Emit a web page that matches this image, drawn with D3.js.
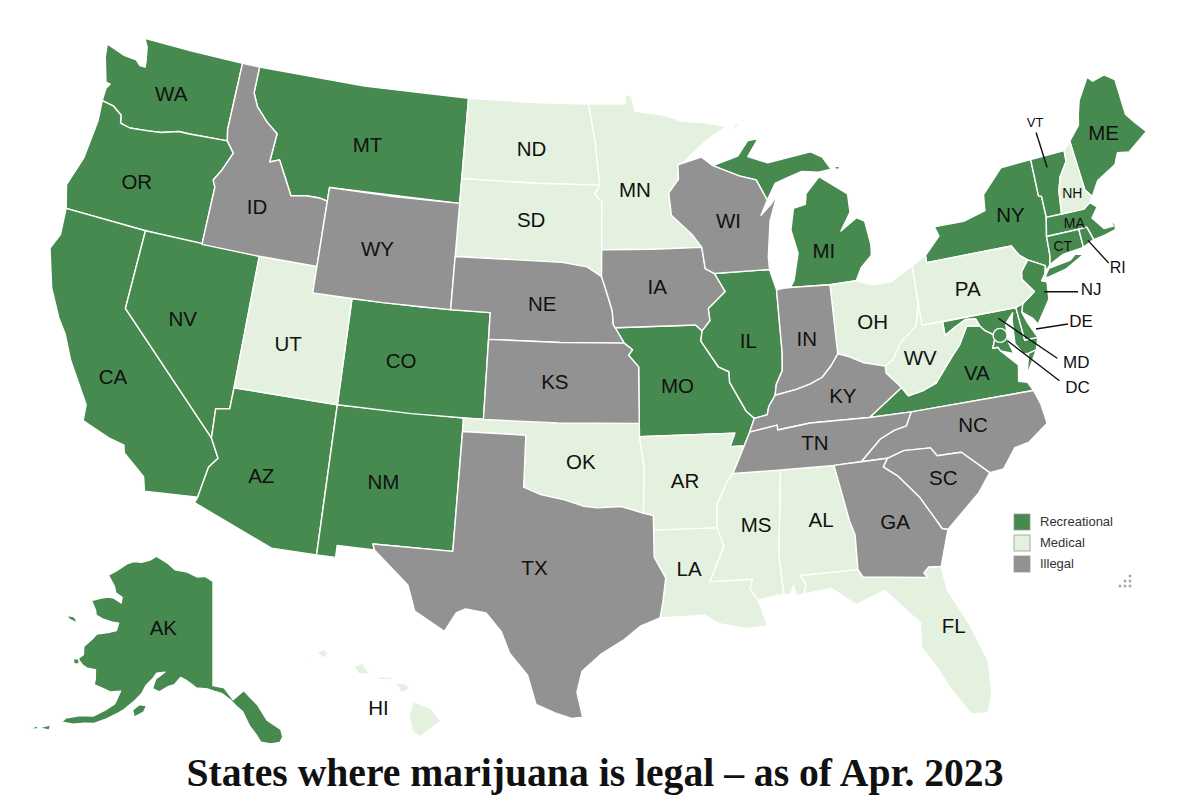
<!DOCTYPE html>
<html>
<head>
<meta charset="utf-8">
<script src="https://cdnjs.cloudflare.com/ajax/libs/d3/7.8.5/d3.min.js"></script>
<style>
  html, body { margin: 0; background: #fff; }
  text { font-family: "Liberation Sans", Arial, sans-serif; fill: #111; }
</style>
</head>
<body>
<div class="chart"></div>
<script>
var svgWidth = 1200;
var svgHeight = 812;

// status lists
var recreational = ["WA","OR","CA","NV","AZ","NM","CO","MT","AK","MO","IL","MI","NY","NJ","VT","ME","MA","CT","RI","VA","MD","DE"];
var medical = ["ND","SD","MN","UT","OK","AR","LA","MS","AL","FL","OH","PA","WV","NH","HI"];
var illegal = ["ID","WY","NE","KS","TX","IA","WI","IN","KY","TN","NC","SC","GA"];

var legendNames = ["Recreational", "Medical", "Illegal"];
var legendColors = ["#468a4f", "#e3f1de", "#929292"];

// state outlines, [lon, lat]
var WA = [[-124.7,48.38],[-124.6,47.9],[-124.15,46.98],[-123.9,46.95],[-124.05,46.75],[-124.05,46.27],[-123.4,46.2],[-122.85,45.95],[-122.75,45.65],[-122.2,45.57],[-121.2,45.65],[-120.5,45.72],[-119.6,45.92],[-119,45.93],[-116.92,46],[-117.04,46.42],[-117.04,49],[-120,49],[-122.76,49],[-122.5,48.7],[-122.35,48.2],[-122.3,47.95],[-122.6,47.95],[-122.9,48.12],[-123.6,48.15]];
var OR = [[-124.05,46.27],[-123.4,46.2],[-122.85,45.95],[-122.75,45.65],[-122.2,45.57],[-121.2,45.65],[-120.5,45.72],[-119.6,45.92],[-119,45.93],[-116.92,46],[-116.46,45.6],[-116.85,44.9],[-117.2,44.45],[-117.03,44.2],[-117.03,42],[-120,42],[-124.21,42],[-124.55,42.85],[-124.1,44],[-123.95,45.5]];
var ID = [[-117.04,49],[-116.05,49],[-116.05,48],[-115.7,47.5],[-115,47],[-114.35,46.65],[-114.45,45.55],[-113.95,45.7],[-113.45,45.05],[-113,44.45],[-112.2,44.55],[-111.5,44.55],[-111.05,44.48],[-111.05,42],[-114.04,42],[-117.03,42],[-117.03,44.2],[-117.2,44.45],[-116.85,44.9],[-116.46,45.6],[-116.92,46],[-117.04,46.42]];
var MT = [[-116.05,49],[-110,49],[-104.05,49],[-104.05,45],[-111.05,45],[-111.05,44.48],[-111.5,44.55],[-112.2,44.55],[-113,44.45],[-113.45,45.05],[-113.95,45.7],[-114.45,45.55],[-114.35,46.65],[-115,47],[-115.7,47.5],[-116.05,48]];
var WY = [[-111.05,45],[-107.5,45],[-104.05,45],[-104.05,41],[-107.5,41],[-111.05,41]];
var NV = [[-120,42],[-114.04,42],[-114.04,37],[-114.05,36.2],[-114.7,36.1],[-114.63,35],[-120,39]];
var UT = [[-114.04,42],[-111.05,42],[-111.05,41],[-109.05,41],[-109.05,37],[-114.04,37]];
var CO = [[-109.05,41],[-105.5,41],[-102.05,41],[-102.05,37],[-105.5,37],[-109.05,37]];
var CA = [[-124.21,42],[-120,42],[-120,39],[-114.63,35],[-114.15,34.3],[-114.5,33.9],[-114.72,32.72],[-117.12,32.53],[-117.3,33.05],[-118.4,33.75],[-118.5,34.03],[-119.2,34.15],[-120.6,34.55],[-120.65,35.15],[-121.9,36.6],[-122.5,37.5],[-123,38],[-123.75,39],[-124.4,40.4],[-124.1,41]];
var AZ = [[-114.04,37],[-109.05,37],[-109.05,31.33],[-111.07,31.33],[-114.81,32.5],[-114.72,32.72],[-114.5,33.9],[-114.15,34.3],[-114.63,35],[-114.7,36.1],[-114.05,36.2]];
var NM = [[-109.05,37],[-103,37],[-103.04,32],[-106.62,32],[-106.53,31.78],[-108.2,31.78],[-108.2,31.33],[-109.05,31.33]];
var ND = [[-104.05,49],[-100,49],[-97.23,49],[-96.85,47.6],[-96.56,45.93],[-100,45.94],[-104.05,45.94]];
var SD = [[-104.05,45.94],[-100,45.94],[-96.56,45.93],[-96.85,45.6],[-96.45,45.3],[-96.45,43.5],[-96.45,42.49],[-97.2,42.85],[-98.5,43],[-104.05,43]];
var NE = [[-104.05,43],[-98.5,43],[-97.2,42.85],[-96.45,42.49],[-96.1,41.7],[-95.9,41.2],[-95.85,40.7],[-95.31,40],[-98.5,40],[-102.05,40],[-102.05,41],[-104.05,41]];
var KS = [[-102.05,40],[-98.5,40],[-95.31,40],[-94.9,39.75],[-95.1,39.55],[-94.61,39.11],[-94.62,37],[-98.5,37],[-102.05,37]];
var OK = [[-103,37],[-98.5,37],[-94.62,37],[-94.62,36.5],[-94.43,35.4],[-94.48,33.64],[-95.5,33.9],[-96.6,33.85],[-97.2,33.9],[-98.1,34.13],[-99.2,34.3],[-100,34.56],[-100,36.5],[-103,36.5]];
var TX = [[-103,36.5],[-100,36.5],[-100,34.56],[-99.2,34.3],[-98.1,34.13],[-97.2,33.9],[-96.6,33.85],[-95.5,33.9],[-94.48,33.64],[-94.04,33.55],[-94.04,33],[-94.04,31.99],[-93.55,31.2],[-93.7,30.3],[-93.84,29.7],[-94.7,29.4],[-95.4,28.9],[-96.4,28.35],[-97.2,27.7],[-97.4,26.9],[-97.15,25.96],[-97.6,25.9],[-98.3,26.1],[-99.1,26.4],[-99.5,27.5],[-100.3,28.3],[-100.7,29.1],[-101.4,29.77],[-102.3,29.88],[-102.7,29.7],[-103.15,28.98],[-104.5,29.65],[-104.9,30.6],[-106.53,31.78],[-106.62,32],[-103.04,32]];
var MN = [[-97.23,49],[-95.15,49],[-95.15,49.38],[-94.8,49.3],[-94.6,48.72],[-93,48.55],[-92,48.3],[-90.8,48.2],[-89.5,48],[-90.5,47.6],[-92.05,46.7],[-92.3,46.65],[-92.3,46.1],[-92.85,45.6],[-92.75,44.75],[-91.7,44],[-91.22,43.5],[-93.8,43.5],[-96.45,43.5],[-96.45,45.3],[-96.85,45.6],[-96.56,45.93],[-96.85,47.6]];
var IA = [[-96.45,43.5],[-93.8,43.5],[-91.22,43.5],[-91.1,42.7],[-90.65,42.5],[-90.15,41.8],[-91.05,41.2],[-91,40.75],[-91.42,40.38],[-91.73,40.61],[-95.77,40.58],[-95.85,40.7],[-95.9,41.2],[-96.1,41.7],[-96.45,42.49]];
var MO = [[-95.77,40.58],[-91.73,40.61],[-91.42,40.38],[-91.5,40],[-90.7,39],[-90.2,38.8],[-90.2,38.4],[-89.5,37.3],[-89.13,37],[-89.4,36.5],[-89.7,36],[-90.37,36],[-90.1,36.5],[-94.62,36.5],[-94.62,37],[-94.61,39.11],[-95.1,39.55],[-94.9,39.75],[-95.31,40]];
var AR = [[-94.62,36.5],[-90.1,36.5],[-90.37,36],[-89.7,36],[-90.3,35],[-90.6,34.7],[-91.1,33.9],[-91.17,33],[-94.04,33],[-94.04,33.55],[-94.48,33.64],[-94.43,35.4]];
var LA = [[-94.04,33],[-91.17,33],[-90.9,32.3],[-91.6,31],[-89.73,31],[-89.85,30.65],[-89.55,30.2],[-89.4,29.8],[-89.2,29.2],[-90.1,29.15],[-91.3,29.4],[-91.9,29.75],[-93.84,29.7],[-93.7,30.3],[-93.55,31.2],[-94.04,31.99]];
var WI = [[-92.05,46.7],[-91,46.9],[-90.4,46.55],[-89,46.1],[-88.1,45.9],[-87.6,45.1],[-88,44.55],[-87.4,44.95],[-87.05,45.28],[-87.55,44.3],[-87.8,43],[-87.8,42.5],[-90.65,42.5],[-91.1,42.7],[-91.22,43.5],[-91.7,44],[-92.75,44.75],[-92.85,45.6],[-92.3,46.1],[-92.3,46.65]];
var IL = [[-90.65,42.5],[-87.8,42.5],[-87.53,41.72],[-87.53,39.35],[-87.6,38.7],[-87.95,38.2],[-88.05,37.8],[-88.4,37.4],[-88.5,37.1],[-89.13,37],[-89.5,37.3],[-90.2,38.4],[-90.2,38.8],[-90.7,39],[-91.5,40],[-91.42,40.38],[-91,40.75],[-91.05,41.2],[-90.15,41.8]];
var IN = [[-87.53,41.72],[-87.2,41.75],[-86.82,41.76],[-84.8,41.7],[-84.82,39.1],[-85.2,38.7],[-85.7,38.3],[-86.3,38.1],[-87,37.95],[-88.05,37.8],[-87.95,38.2],[-87.6,38.7],[-87.53,39.35]];
var OH = [[-84.8,41.7],[-83.45,41.73],[-82.7,41.5],[-81.7,41.5],[-80.52,41.98],[-80.52,40.64],[-80.7,40],[-80.85,39.7],[-81.7,39.2],[-82.2,38.6],[-82.6,38.42],[-83.6,38.65],[-84.3,38.95],[-84.82,39.1]];
var KY = [[-89.13,37],[-88.5,37.1],[-88.4,37.4],[-88.05,37.8],[-87,37.95],[-86.3,38.1],[-85.7,38.3],[-85.2,38.7],[-84.82,39.1],[-84.3,38.95],[-83.6,38.65],[-82.6,38.42],[-82.6,38.15],[-81.97,37.54],[-83.68,36.6],[-86.5,36.65],[-88.07,36.5],[-88.07,36.68],[-89.4,36.5]];
var TN = [[-89.7,36],[-89.4,36.5],[-88.07,36.68],[-88.07,36.5],[-86.5,36.65],[-83.68,36.6],[-81.68,36.59],[-82,36.1],[-82.6,36],[-83.3,35.75],[-84.32,35],[-85.6,34.98],[-88.2,35],[-90.3,35]];
var MS = [[-90.3,35],[-88.2,35],[-88.1,34.9],[-88.47,31.9],[-88.4,30.35],[-89.55,30.2],[-89.85,30.65],[-89.73,31],[-91.6,31],[-90.9,32.3],[-91.17,33],[-91.1,33.9],[-90.6,34.7]];
var AL = [[-88.2,35],[-85.6,34.98],[-85.18,32.87],[-85,32.3],[-85.05,31],[-87.6,31],[-87.4,30.65],[-87.5,30.3],[-87.85,30.25],[-87.95,30.65],[-88.1,30.3],[-88.4,30.35],[-88.47,31.9],[-88.1,34.9]];
var GA = [[-85.6,34.98],[-84.32,35],[-83.1,35],[-83.35,34.7],[-82.75,34.3],[-81.9,33.4],[-81.4,32.6],[-81.1,32.1],[-80.85,32.03],[-81.4,30.7],[-81.95,30.75],[-82.2,30.55],[-82.05,30.36],[-84.86,30.7],[-85.05,31],[-85,32.3],[-85.18,32.87]];
var FL = [[-87.6,31],[-85.05,31],[-84.86,30.7],[-82.05,30.36],[-82.2,30.55],[-81.95,30.75],[-81.4,30.7],[-81.3,29.8],[-80.6,28.4],[-80.05,26.9],[-80.12,25.7],[-80.4,24.95],[-81.1,25],[-81.8,26.1],[-82.2,26.9],[-82.75,27.8],[-82.65,28.7],[-83.4,29.5],[-84,30.1],[-85.3,29.7],[-86.3,30.4],[-87.5,30.3],[-87.4,30.65]];
var SC = [[-83.1,35],[-82.3,35.2],[-81.05,35.15],[-80.8,34.82],[-79.67,34.8],[-78.55,33.86],[-79.2,33.2],[-80.85,32.03],[-81.1,32.1],[-81.4,32.6],[-81.9,33.4],[-82.75,34.3],[-83.35,34.7]];
var NC = [[-84.32,35],[-83.1,35],[-82.3,35.2],[-81.05,35.15],[-80.8,34.82],[-79.67,34.8],[-78.55,33.86],[-77.9,33.9],[-77.2,34.6],[-76.5,34.7],[-75.5,35.25],[-75.6,36],[-75.8,36.55],[-81.68,36.59],[-82,36.1],[-82.6,36],[-83.3,35.75]];
var VA = [[-83.68,36.6],[-81.68,36.59],[-75.8,36.55],[-76,36.9],[-76.4,37],[-76.25,37.6],[-76.95,38.25],[-77.05,38.4],[-77.3,38.4],[-77.05,38.85],[-77.5,39.1],[-77.72,39.32],[-78.35,39.4],[-78.85,38.77],[-79.3,38.4],[-80.3,37.5],[-81,37.3],[-81.7,37.2],[-81.97,37.54]];
var VAshore = [[-75.95,37.15],[-75.25,38.02],[-75.65,37.95]];
var WV = [[-82.6,38.15],[-82.6,38.42],[-82.2,38.6],[-81.7,39.2],[-80.85,39.7],[-80.7,40],[-80.52,40.64],[-80.52,39.72],[-79.48,39.72],[-79.48,39.2],[-78.9,39.45],[-78.35,39.65],[-77.85,39.6],[-77.72,39.32],[-78.35,39.4],[-78.85,38.77],[-79.3,38.4],[-80.3,37.5],[-81,37.3],[-81.7,37.2],[-81.97,37.54]];
var PA = [[-80.52,41.98],[-80.1,42.15],[-79.76,42.27],[-79.76,42],[-75.35,42],[-75.07,41.6],[-74.7,41.36],[-75.13,40.98],[-75.2,40.7],[-74.72,40.15],[-75.42,39.8],[-75.79,39.72],[-80.52,39.72],[-80.52,40.64]];
var NY = [[-79.76,42.27],[-78.9,42.9],[-79.05,43.27],[-77.5,43.27],[-76.3,43.5],[-76.2,44.1],[-75,44.95],[-73.35,45],[-73.4,43.6],[-73.25,43.55],[-73.27,42.75],[-73.49,42.05],[-73.55,41.3],[-73.65,41],[-73.9,40.8],[-73.9,41],[-74.7,41.36],[-75.07,41.6],[-75.35,42],[-79.76,42]];
var longIsland = [[-74.03,40.6],[-73.75,40.87],[-72.6,40.98],[-72.3,41.15],[-71.87,41.07],[-72.9,40.7],[-73.9,40.55]];
var NJ = [[-74.7,41.36],[-73.9,41],[-74.02,40.7],[-74.25,40.48],[-74,40.4],[-74.1,39.75],[-74.9,38.93],[-75.1,39.2],[-75.55,39.5],[-75.42,39.8],[-74.72,40.15],[-75.2,40.7],[-75.13,40.98]];
var DE = [[-75.79,39.72],[-75.42,39.8],[-75.55,39.5],[-75.4,39.1],[-75.05,38.45],[-75.7,38.46]];
var MD = [[-79.48,39.72],[-75.79,39.72],[-75.7,38.46],[-75.05,38.45],[-75.25,38.02],[-75.65,37.95],[-75.9,37.95],[-76.2,38.4],[-76.1,39.3],[-76,39.55],[-76.45,39.2],[-76.5,38.5],[-76.35,38.05],[-76.95,38.25],[-77.05,38.4],[-77.3,38.4],[-77.05,38.85],[-77.5,39.1],[-77.72,39.32],[-77.85,39.6],[-78.35,39.65],[-78.9,39.45],[-79.48,39.2]];
var CT = [[-73.49,42.05],[-71.8,42.02],[-71.8,41.32],[-72.9,41.25],[-73.65,41],[-73.55,41.3]];
var RI = [[-71.8,42.02],[-71.38,42.02],[-71.2,41.5],[-71.8,41.32]];
var MA = [[-73.27,42.75],[-72.46,42.73],[-71.3,42.7],[-70.9,42.88],[-70.6,42.65],[-71,42.3],[-70.55,41.8],[-70.05,41.8],[-70.2,42.07],[-69.95,41.85],[-70,41.65],[-70.65,41.55],[-71.2,41.5],[-71.38,42.02],[-71.8,42.02],[-73.49,42.05]];
var VT = [[-73.35,45],[-71.5,45.01],[-71.55,44.6],[-72.05,44.1],[-72.3,43.6],[-72.46,42.73],[-73.27,42.75],[-73.25,43.55],[-73.4,43.6]];
var NH = [[-71.5,45.01],[-71.08,45.3],[-70.98,43.38],[-70.7,43.07],[-70.9,42.88],[-71.3,42.7],[-72.46,42.73],[-72.3,43.6],[-72.05,44.1],[-71.55,44.6]];
var ME = [[-71.08,45.3],[-70.4,45.8],[-70.25,46.2],[-70,46.7],[-69.23,47.46],[-69,47.25],[-68.3,47.36],[-67.8,47.07],[-67.8,45.7],[-67.45,45.3],[-67,44.85],[-68.2,44.3],[-68.8,44.4],[-69.1,44],[-70.2,43.6],[-70.7,43.07],[-70.98,43.38]];
var MIlower = [[-86.82,41.76],[-84.8,41.7],[-83.45,41.73],[-83.1,42.2],[-82.5,42.6],[-82.45,43],[-82.6,43.9],[-83,44.07],[-83.9,43.65],[-83.3,44.3],[-83.3,45],[-84.7,45.78],[-85.5,45.2],[-85.6,44.8],[-86.25,44.7],[-86.5,43.9],[-86.25,43],[-86.6,42]];
var MIupper = [[-90.4,46.55],[-89,46.85],[-88.4,47.4],[-87.8,47.45],[-88.45,46.8],[-87.4,46.5],[-86,46.65],[-85,46.75],[-84.4,46.5],[-84,46],[-84.7,45.95],[-85.6,46.05],[-86.5,45.85],[-87.1,45.7],[-87.6,45.1],[-88.1,45.9],[-89,46.1]];
var isleRoyale = [[-89.2,47.87],[-88.45,48.17],[-88.6,48.17],[-89.1,47.98]];
var drummond = [[-83.95,46.05],[-83.5,46.1],[-83.6,45.95]];

var AKmain = [[-141,69.65],[-143,70.1],[-145,70],[-148,70.4],[-151,70.45],[-153,70.9],[-156.6,71.35],[-158,70.85],[-160,70.45],[-162,70.3],[-163.5,69.9],[-165.5,68.9],[-166.8,68.35],[-164.5,67.6],[-163.7,67.1],[-162,66.9],[-161.8,66.4],[-163.7,66.6],[-165,66.5],[-166.3,66.2],[-168.1,65.65],[-166.5,65],[-166,64.6],[-164.5,64.5],[-162.5,64.5],[-161,64.6],[-161,63.9],[-162.5,63.5],[-164.5,63.05],[-165,62.5],[-166,61.6],[-165.5,60.9],[-166.2,60.4],[-164.9,60],[-164,59.9],[-162.5,60],[-162,59.2],[-161.9,58.7],[-160,58.6],[-158.9,58.5],[-157.2,58.8],[-157.6,57.6],[-158.9,56.8],[-160.5,56],[-162.5,55.7],[-164.5,55.05],[-164.9,54.6],[-163.1,54.75],[-161.5,55.15],[-160,55.4],[-158.5,56],[-157,56.7],[-156,57.2],[-154.5,58.2],[-153.5,59],[-153,59.8],[-152,60.5],[-151.5,61],[-150,61.2],[-151.5,60.5],[-151.8,59.6],[-150.5,59.4],[-149,60],[-148,60.2],[-147,60.9],[-146,60.7],[-145,60.4],[-144,60.05],[-142,60],[-140.5,59.75],[-139.5,59.6],[-138,59],[-137,58.4],[-136,57.9],[-135.5,57.2],[-135,56.5],[-134.2,55.8],[-133.5,55],[-132,54.75],[-130.6,54.75],[-130,55.2],[-130.1,55.9],[-131.5,56.6],[-132.1,56.9],[-133.4,58.4],[-134.5,59.1],[-135.5,59.75],[-137.5,59],[-139,60.1],[-141,60.3]];
var kodiak = [[-154.5,57.4],[-153.5,58],[-152.3,58],[-152.6,57.4],[-154,56.8]];
var stLawrence = [[-171.7,63.5],[-170,63.7],[-168.8,63.3],[-170.5,63.3]];
var nunivak = [[-167,60.25],[-166,60.4],[-165.6,60],[-166.5,59.85]];
var unalaska = [[-167.8,53.35],[-166.3,54],[-166.2,53.5]];
var umnak = [[-169.2,52.85],[-168,53.5],[-167.9,53.2]];

var hiBig = [[-155.9,20.25],[-155.2,19.98],[-154.82,19.5],[-155.65,18.92],[-155.95,19.1],[-156.08,19.75]];
var hiMaui = [[-156.7,20.93],[-156.25,20.95],[-156,20.75],[-156.4,20.58],[-156.5,20.8]];
var hiMolokai = [[-157.3,21.2],[-156.75,21.17],[-156.75,21.08],[-157.3,21.08]];
var hiLanai = [[-157.05,20.9],[-156.85,20.85],[-156.95,20.75]];
var hiOahu = [[-158.28,21.57],[-157.97,21.71],[-157.65,21.3],[-158.1,21.3]];
var hiKauai = [[-159.78,22.1],[-159.5,22.23],[-159.3,22.05],[-159.55,21.88]];
var hiNiihau = [[-160.25,21.97],[-160.1,22],[-160.07,21.88]];

var outlines = {
  WA: [WA], OR: [OR], ID: [ID], MT: [MT], WY: [WY], NV: [NV], UT: [UT], CO: [CO], CA: [CA], AZ: [AZ], NM: [NM],
  ND: [ND], SD: [SD], NE: [NE], KS: [KS], OK: [OK], TX: [TX], MN: [MN], IA: [IA], MO: [MO], AR: [AR], LA: [LA],
  WI: [WI], IL: [IL], IN: [IN], OH: [OH], KY: [KY], TN: [TN], MS: [MS], AL: [AL], GA: [GA], FL: [FL], SC: [SC],
  NC: [NC], VA: [VA, VAshore], WV: [WV], PA: [PA], NY: [NY, longIsland], NJ: [NJ], DE: [DE], MD: [MD], CT: [CT],
  RI: [RI], MA: [MA], VT: [VT], NH: [NH], ME: [ME], MI: [MIlower, MIupper, isleRoyale, drummond],
  AK: [AKmain, kodiak, stLawrence, nunivak, unalaska, umnak],
  HI: [hiBig, hiMaui, hiMolokai, hiLanai, hiOahu, hiKauai, hiNiihau]
};

// label anchors [code, lon, lat, font size]
var stateLabels = [
  ["WA",-120.52,47.25,20.5],["OR",-121.08,43.69,20.5],["CA",-119.77,36.43,20.5],["NV",-117.15,39.13,20.5],["ID",-114.65,43.81,20.5],["MT",-109.36,46.81,20.5],
  ["WY",-108.1,43,20.5],["UT",-111.85,38.98,20.5],["CO",-106.25,38.92,20.5],["AZ",-112.06,33.97,20.5],["NM",-106.46,34.36,20.5],["ND",-100.35,47.25,20.5],
  ["SD",-100.2,44.56,20.5],["NE",-99.45,41.44,20.5],["KS",-98.7,38.54,20.5],["OK",-97.38,35.58,20.5],["TX",-99.37,31.58,20.5],["MN",-94.67,45.74,20.5],
  ["IA",-93.6,42.08,20.5],["MO",-92.74,38.38,20.5],["AR",-92.54,34.84,20.5],["LA",-92.5,31.53,20.5],["MS",-89.4,33.05,20.5],["AL",-86.45,33.01,20.5],
  ["GA",-83.14,32.62,20.5],["FL",-81.26,28.44,20.5],["SC",-80.68,33.99,20.5],["NC",-78.9,35.76,20.5],["VA",-78.28,37.64,20.5],["WV",-80.86,38.53,20.5],
  ["KY",-84.81,37.55,20.5],["TN",-86.37,35.91,20.5],["OH",-82.9,40.15,20.5],["IN",-86.25,39.81,20.5],["IL",-89.15,39.92,20.5],["WI",-89.74,44.45,20.5],
  ["MI",-84.9,43.01,20.5],["PA",-77.95,40.77,20.5],["NY",-75.04,43.16,20.5],["ME",-69.2,45.28,20.5],
  ["NH",-71.65,43.39,14],["MA",-71.95,42.27,14],["CT",-72.8,41.57,14]
];
var alaskaLabel = ["AK",-151.6,65.1,20.5];
var hawaiiLabel = ["HI",-157.3,20.01,20.5];

// leader lines [code, lon, lat, line end dx, dy, text dx, dy, font size]
var callouts = [
  ["VT",-72.6,44.56,-11,-35,-12,-45,13],
  ["RI",-71.5,41.54,21,23,30,27,16],
  ["NJ",-74.25,40.06,34,0,47,-2,17],
  ["DE",-75.05,38.77,32,-5,45,-8,17],
  ["MD",-76.75,39.46,59,40,78,44,17],
  ["DC",-76.53,38.57,52,40,70,47,17]
];
var dcPoint = [-76.83,38.82];

// one projection for the lower 48, one each for the two insets
var lower48 = d3.geoAlbers().scale(1520).translate([598, 378]);
var alaska = d3.geoConicEqualArea().parallels([55, 65]).rotate([141, 0]).center([0, 65]).scale(640).translate([213, 633]);
var hawaii = d3.geoConicEqualArea().parallels([8, 18]).rotate([157, 0]).center([0, 20.5]).scale(1520).translate([386, 695]);

function projectionFor(code) {
  if (code === "AK") return alaska;
  if (code === "HI") return hawaii;
  return lower48;
}

// rings come in either direction, d3 wants the small side filled
function toFeature(code) {
  var polygons = outlines[code].map(function(ring) {
    var closed = ring.concat([ring[0]]);
    if (d3.geoArea({type: "Polygon", coordinates: [closed]}) > 2 * Math.PI) closed.reverse();
    return [closed];
  });
  return {type: "Feature", id: code, geometry: {type: "MultiPolygon", coordinates: polygons}};
}

var colorScale = d3.scaleOrdinal()
  .domain(legendNames)
  .range(legendColors);

function statusOf(code) {
  if (recreational.indexOf(code) >= 0) return "Recreational";
  if (medical.indexOf(code) >= 0) return "Medical";
  return "Illegal";
}

var svg = d3.select(".chart")
  .append("svg")
  .attr("width", svgWidth)
  .attr("height", svgHeight)
  .style("display", "block");

var stateCodes = recreational.concat(medical, illegal);

svg.append("g")
  .selectAll("path")
  .data(stateCodes.map(toFeature))
  .enter()
  .append("path")
  .attr("d", d => d3.geoPath(projectionFor(d.id))(d))
  .attr("fill", d => colorScale(statusOf(d.id)))
  .attr("stroke", "#fff")
  .attr("stroke-width", 1.4)
  .attr("stroke-linejoin", "round");

// DC ring
var dcXY = lower48(dcPoint);
svg.append("circle")
  .attr("cx", dcXY[0])
  .attr("cy", dcXY[1])
  .attr("r", 7)
  .attr("fill", colorScale("Recreational"))
  .attr("stroke", "#fff")
  .attr("stroke-width", 1.4);

function addLabel(row, projection) {
  var p = projection([row[1], row[2]]);
  svg.append("text")
    .attr("x", p[0])
    .attr("y", p[1])
    .attr("text-anchor", "middle")
    .attr("dominant-baseline", "central")
    .attr("font-size", row[3])
    .text(row[0]);
}
stateLabels.forEach(d => addLabel(d, lower48));
addLabel(alaskaLabel, alaska);
addLabel(hawaiiLabel, hawaii);

callouts.forEach(function(d) {
  var p = lower48([d[1], d[2]]);
  svg.append("line")
    .attr("x1", p[0])
    .attr("y1", p[1])
    .attr("x2", p[0] + d[3])
    .attr("y2", p[1] + d[4])
    .attr("stroke", "#111")
    .attr("stroke-width", 1.4);
  svg.append("text")
    .attr("x", p[0] + d[5])
    .attr("y", p[1] + d[6])
    .attr("text-anchor", "middle")
    .attr("dominant-baseline", "central")
    .attr("font-size", d[7])
    .text(d[0]);
});

// legend
var legend = svg.append("g")
  .attr("transform", "translate(1014, 514)");
var legendRow = d3.scaleBand()
  .domain(legendNames)
  .range([0, 63]);

legend.selectAll("rect")
  .data(legendNames)
  .enter()
  .append("rect")
  .attr("x", 0)
  .attr("y", d => legendRow(d))
  .attr("width", 16)
  .attr("height", 16)
  .attr("fill", d => colorScale(d))
  .attr("stroke", "#999")
  .attr("stroke-width", 0.8);

legend.selectAll("text")
  .data(legendNames)
  .enter()
  .append("text")
  .attr("x", 26)
  .attr("y", d => legendRow(d) + 7)
  .attr("dominant-baseline", "central")
  .attr("font-size", 13)
  .style("fill", "#333")
  .text(d => d);

// small dots mark, bottom right of the legend
var dotColumns = [2, 1, 2, 0, 1, 2];
var dotRows = [0, 1, 1, 2, 2, 2];
svg.append("g")
  .attr("transform", "translate(1120, 576)")
  .selectAll("circle")
  .data(dotColumns)
  .enter()
  .append("circle")
  .attr("cx", d => d * 5)
  .attr("cy", (d, i) => dotRows[i] * 5)
  .attr("r", 1.5)
  .attr("fill", "#aaa");

// title
svg.append("text")
  .attr("x", 595)
  .attr("y", 786)
  .attr("text-anchor", "middle")
  .attr("textLength", 817)
  .attr("lengthAdjust", "spacingAndGlyphs")
  .attr("font-size", 40)
  .attr("font-weight", "bold")
  .style("font-family", "'Liberation Serif', serif")
  .text("States where marijuana is legal \u2013 as of Apr. 2023");
</script>
</body>
</html>
